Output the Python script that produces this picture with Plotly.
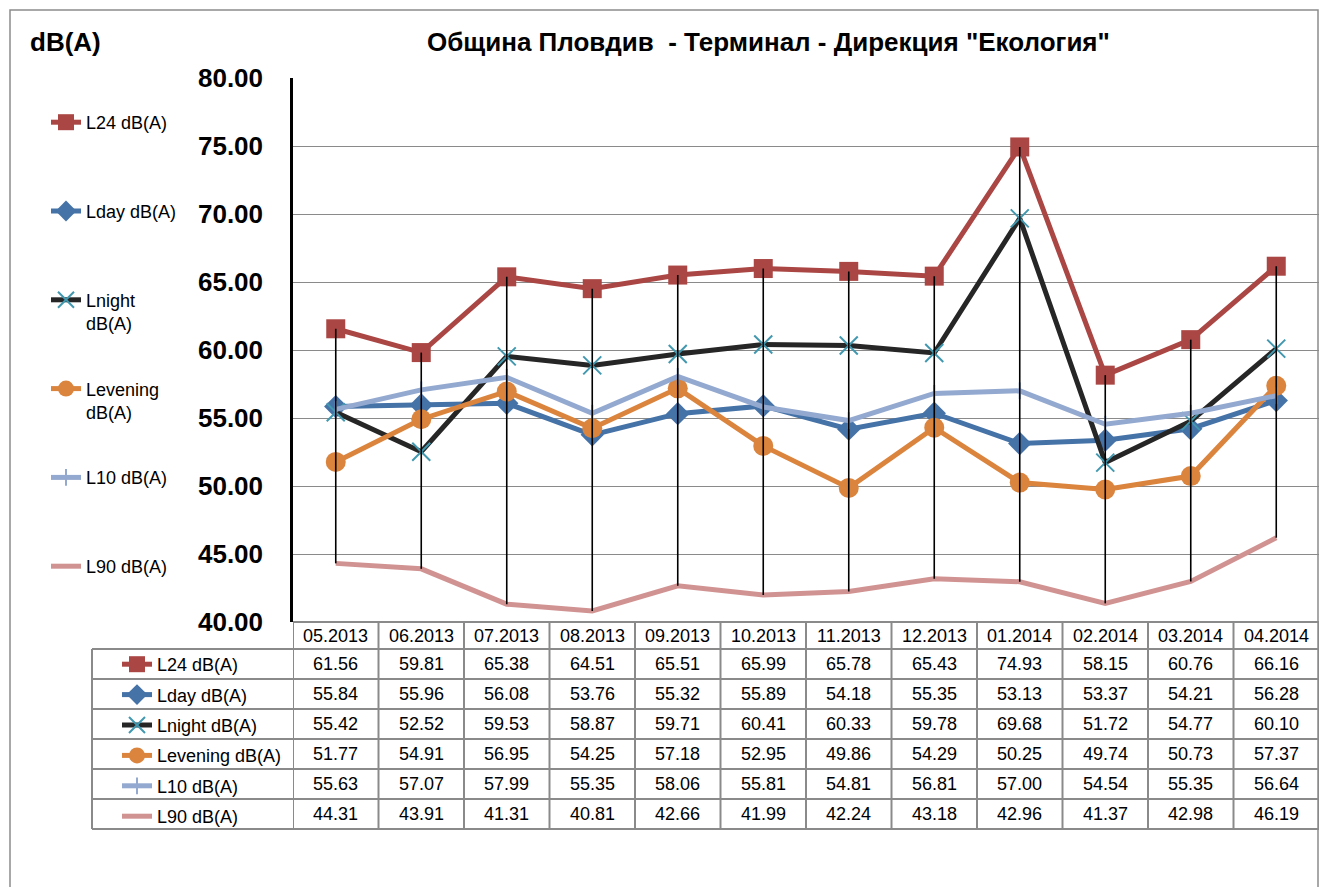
import plotly.graph_objects as go

# data
months = ['05.2013', '06.2013', '07.2013', '08.2013', '09.2013', '10.2013',
          '11.2013', '12.2013', '01.2014', '02.2014', '03.2014', '04.2014']
names = ['L24 dB(A)', 'Lday dB(A)', 'Lnight dB(A)', 'Levening dB(A)', 'L10 dB(A)', 'L90 dB(A)']
legend_names = ['L24 dB(A)<br> ', 'Lday dB(A)<br> ', 'Lnight<br>dB(A)', 'Levening<br>dB(A)',
                'L10 dB(A)<br> ', 'L90 dB(A)<br> ']

l24 = [61.56, 59.81, 65.38, 64.51, 65.51, 65.99, 65.78, 65.43, 74.93, 58.15, 60.76, 66.16]
lday = [55.84, 55.96, 56.08, 53.76, 55.32, 55.89, 54.18, 55.35, 53.13, 53.37, 54.21, 56.28]
lnight = [55.42, 52.52, 59.53, 58.87, 59.71, 60.41, 60.33, 59.78, 69.68, 51.72, 54.77, 60.10]
leven = [51.77, 54.91, 56.95, 54.25, 57.18, 52.95, 49.86, 54.29, 50.25, 49.74, 50.73, 57.37]
l10 = [55.63, 57.07, 57.99, 55.35, 58.06, 55.81, 54.81, 56.81, 57.00, 54.54, 55.35, 56.64]
l90 = [44.31, 43.91, 41.31, 40.81, 42.66, 41.99, 42.24, 43.18, 42.96, 41.37, 42.98, 46.19]
series = [l24, lday, lnight, leven, l10, l90]

# styles
colors = ['#AA4643', '#4572A7', '#262626', '#DB843D', '#93A9CF', '#D19392']
markers = [
    dict(symbol='square', size=19, color='#AA4643'),
    dict(symbol='diamond', size=18, color='#4572A7'),
    dict(symbol='x-thin-open', size=18, color='#4198AF', line=dict(width=2, color='#4198AF')),
    dict(symbol='circle', size=20, color='#DB843D'),
    dict(symbol='line-ns-open', size=12, color='#93A9CF', line=dict(width=2, color='#93A9CF')),
    dict(symbol='circle', size=1, color='rgba(0,0,0,0)'),
]

FONT = 'Liberation Sans, Arial, sans-serif'
W, H = 1321, 887


def px(x):
    return x / W


def py(y):
    return 1 - y / H


idx = list(range(len(months)))

fig = go.Figure()

for i, vals in enumerate(series):
    fig.add_trace(go.Scatter(
        x=idx, y=vals, name=legend_names[i],
        mode='lines+markers' if i < 5 else 'lines',
        line=dict(color=colors[i], width=5),
        marker=markers[i], legendgroup='g%d' % i, legend='legend',
    ))

# keys for the data table
for i in range(len(series)):
    fig.add_trace(go.Scatter(
        x=[None], y=[None], name=names[i],
        mode='lines+markers' if i < 5 else 'lines',
        line=dict(color=colors[i], width=5),
        marker=markers[i], legendgroup='t%d' % i, legend='legend2',
    ))

# high-low lines
hi = [max(v) for v in zip(*series)]
lo = [min(v) for v in zip(*series)]
hx, hy = [], []
for k, h, l in zip(idx, hi, lo):
    hx += [k, k, None]
    hy += [h, l, None]
fig.add_trace(go.Scatter(x=hx, y=hy, mode='lines', line=dict(color='black', width=1.6),
                         showlegend=False, hoverinfo='skip'))

shapes = []
ann = []
grid = '#8a8a8a'
row_tops = [649, 679, 709, 739, 769, 799, 829]

# outer chart border
shapes.append(dict(type='rect', xref='paper', yref='paper', x0=px(10), x1=px(1318),
                   y0=py(10), y1=-0.2, line=dict(color='#8c8c8c', width=1.5)))

# table grid
for k in range(len(months) + 1):
    shapes.append(dict(type='line', xref='x', yref='paper', x0=k - 0.5, x1=k - 0.5,
                       y0=py(622), y1=py(829), line=dict(color=grid, width=2)))
shapes.append(dict(type='line', xref='paper', yref='paper', x0=px(92), x1=px(92),
                   y0=py(649), y1=py(829), line=dict(color=grid, width=2)))
shapes.append(dict(type='line', xref='paper', yref='paper', x0=px(293), x1=px(1319),
                   y0=py(622), y1=py(622), line=dict(color=grid, width=2)))
for r in row_tops:
    shapes.append(dict(type='line', xref='paper', yref='paper', x0=px(92), x1=px(1319),
                       y0=py(r), y1=py(r), line=dict(color=grid, width=2)))

# table header and values
for k, m in zip(idx, months):
    ann.append(dict(x=k, y=py(636), xref='x', yref='paper', text=m, showarrow=False,
                    xanchor='center', yanchor='middle',
                    font=dict(family=FONT, size=18, color='black')))
for i, vals in enumerate(series):
    yc = py(row_tops[i] + 15)
    for k, v in zip(idx, vals):
        ann.append(dict(x=k, y=yc, xref='x', yref='paper', text='%.2f' % v, showarrow=False,
                        xanchor='center', yanchor='middle',
                        font=dict(family=FONT, size=18, color='black')))

ann.append(dict(x=px(768), y=py(42), xref='paper', yref='paper', showarrow=False,
                xanchor='center', yanchor='middle',
                text='<b>Община Пловдив  - Терминал - Дирекция "Екология"</b>',
                font=dict(family=FONT, size=26, color='black')))
ann.append(dict(x=px(28), y=py(42), xref='paper', yref='paper', showarrow=False,
                xanchor='left', yanchor='middle', text='<b>dB(A)</b>',
                font=dict(family=FONT, size=26, color='black')))

fig.update_layout(
    width=W, height=H,
    margin=dict(l=0, r=0, t=0, b=0, autoexpand=False),
    paper_bgcolor='white', plot_bgcolor='white',
    shapes=shapes, annotations=ann,
    xaxis=dict(domain=[px(293), px(1319)], type='linear',
               range=[-0.5, 11.5], showticklabels=False, showgrid=False, zeroline=False,
               automargin=False, fixedrange=True),
    yaxis=dict(domain=[py(622), py(78)], range=[40, 80], dtick=5, tickformat='.2f',
               showgrid=True, gridcolor=grid, gridwidth=1, zeroline=False,
               showline=True, linecolor='black', linewidth=2.5,
               ticks='', ticklabelstandoff=22, automargin=False,
               tickfont=dict(family=FONT, size=26, color='black', weight='bold')),
    legend=dict(x=px(46), y=py(104), xanchor='left', yanchor='top', valign='top',
                tracegroupgap=39, bgcolor='rgba(0,0,0,0)',
                font=dict(family=FONT, size=18, color='black')),
    legend2=dict(x=px(117), y=py(646), xanchor='left', yanchor='top',
                 tracegroupgap=4, bgcolor='rgba(0,0,0,0)',
                 font=dict(family=FONT, size=18, color='black')),
)

fig.write_html('out.html', config={'displayModeBar': False},
               post_script="document.body.style.margin='0';")
